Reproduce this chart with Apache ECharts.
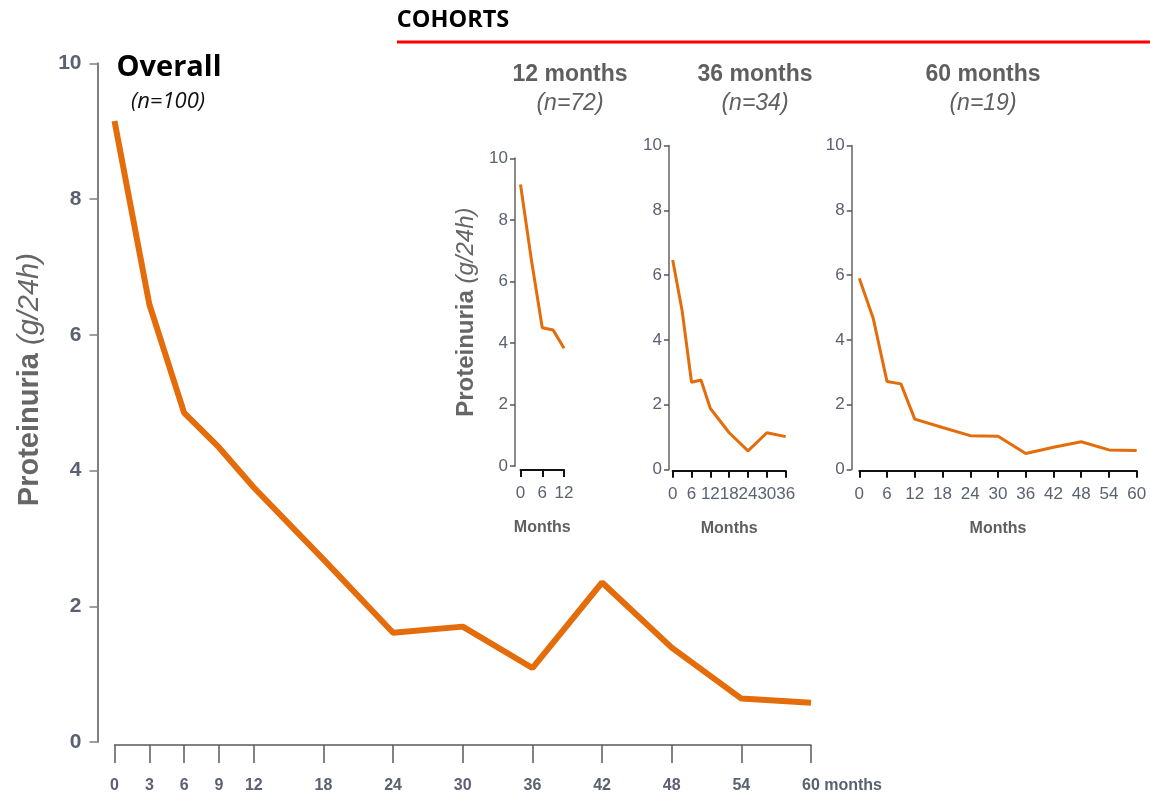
<!DOCTYPE html>
<html><head><meta charset="utf-8">
<script src="https://cdn.jsdelivr.net/npm/echarts@6/dist/echarts.min.js"></script>
<style>html,body{margin:0;padding:0;background:#fff}#c{width:1150px;height:794px}</style>
</head><body><div id="c"></div>
<script>
// ---- data ----
const overallMonths = [0, 3, 6, 9, 12, 18, 24, 30, 36, 42, 48, 54, 60];
const overallValues = [9.15, 6.45, 4.85, 4.34, 3.75, 2.69, 1.61, 1.70, 1.09, 2.35, 1.39, 0.64, 0.58];
const c12Months = [0, 3, 6, 9, 12];
const c12Values = [9.15, 6.7, 4.49, 4.42, 3.83];
const c36Months = [0, 3, 6, 9, 12, 18, 24, 30, 36];
const c36Values = [6.47, 4.9, 2.69, 2.76, 1.88, 1.13, 0.57, 1.13, 1.01];
const c60Months = [0, 3, 6, 9, 12, 18, 24, 30, 36, 42, 48, 54, 60];
const c60Values = [5.9, 4.67, 2.71, 2.64, 1.55, 1.29, 1.04, 1.02, 0.49, 0.68, 0.85, 0.60, 0.58];
const overallTicks = [0, 3, 6, 9, 12, 18, 24, 30, 36, 42, 48, 54, 60];
const cohortTitles = ['12 months', '36 months', '60 months'];
const cohortN = ['(n=72)', '(n=34)', '(n=19)'];

const zip = (a, b) => a.map((x, i) => [x, b[i]]);
const ORANGE = '#E46C0A';
const AF = 'Liberation Sans, Arial, sans-serif';
const GRAYTXT = '#5f5f5f';
const TICKTXT = '#5a6272';

const chart = echarts.init(document.getElementById('c'));

function insetX(idx, max, offset) {
  return {
    gridIndex: idx, type: 'value', min: 0, max: max, interval: 6, offset: offset,
    name: 'Months', nameLocation: 'middle', nameGap: 50,
    nameTextStyle: {fontFamily: AF, fontWeight: 'bold', fontSize: 16, color: GRAYTXT},
    axisLine: {show: true, onZero: false, lineStyle: {color: '#111', width: 2}},
    axisTick: {show: true, length: 7, lineStyle: {color: '#111', width: 2}},
    axisLabel: {fontFamily: AF, fontSize: 17, color: TICKTXT, margin: 15, hideOverlap: false},
    splitLine: {show: false}
  };
}
function insetY(idx, offset, named) {
  const y = {
    gridIndex: idx, type: 'value', min: 0, max: 10, interval: 2, offset: offset,
    axisLine: {show: true, onZero: false, lineStyle: {color: '#8a8a8a', width: 2}},
    axisTick: {show: true, length: 5, lineStyle: {color: '#555', width: 1.5}},
    axisLabel: {fontFamily: AF, fontSize: 17, color: TICKTXT, margin: 7},
    splitLine: {show: false}
  };
  if (named) {
    y.name = '{b|Proteinuria} {i|(g/24h)}';
    y.nameLocation = 'middle';
    y.nameGap = 37;
    y.nameTextStyle = {fontFamily: AF, fontSize: 24, color: '#666',
      rich: {b: {fontFamily: AF, fontWeight: 'bold', fontSize: 24, color: '#666'},
             i: {fontFamily: AF, fontStyle: 'italic', fontSize: 24, color: '#666'}}};
  }
  return y;
}

const option = {
  animation: false,
  backgroundColor: '#fff',
  grid: [
    {left: 114.5, top: 63.3, width: 696.5, height: 679.4},
    {left: 520.5, top: 158.3, width: 43.5, height: 307.7},
    {left: 672.7, top: 145.7, width: 113, height: 323.6},
    {left: 859.3, top: 145.7, width: 277.4, height: 323.6}
  ],
  xAxis: [
    {
      gridIndex: 0, type: 'value', min: 0, max: 60, offset: 3,
      axisLine: {show: true, onZero: false, lineStyle: {color: '#5a5a5a', width: 1.5}},
      axisTick: {show: true, customValues: overallTicks, length: 18, lineStyle: {color: '#5a5a5a', width: 1.5}},
      axisLabel: {
        customValues: overallTicks, margin: 33, fontFamily: AF, fontSize: 16, fontWeight: 'bold', color: TICKTXT,
        formatter: v => v === 60 ? '{p|}60{m| months}' : String(v),
        rich: {p: {width: 62}, m: {width: 62, fontFamily: AF, fontSize: 16, fontWeight: 'bold', color: TICKTXT}}
      },
      splitLine: {show: false}
    },
    insetX(1, 12, 4),
    insetX(2, 36, 1.5),
    insetX(3, 60, 1.5)
  ],
  yAxis: [
    {
      gridIndex: 0, type: 'value', min: 0, max: 10, interval: 2, offset: 17,
      name: '{b|Proteinuria} {i|(g/24h)}', nameLocation: 'middle', nameGap: 53,
      nameTextStyle: {fontFamily: AF, fontSize: 29, color: '#666', padding: [0, 0, 0, 46],
        rich: {b: {fontFamily: AF, fontWeight: 'bold', fontSize: 29, color: '#666'},
               i: {fontFamily: AF, fontStyle: 'italic', fontSize: 29, color: '#666'}}},
      axisLine: {show: true, onZero: false, lineStyle: {color: '#808080', width: 2}},
      axisTick: {show: true, length: 8, lineStyle: {color: '#808080', width: 1.5}},
      axisLabel: {fontFamily: AF, fontSize: 21, fontWeight: 'bold', color: TICKTXT, margin: 16},
      splitLine: {show: false}
    },
    insetY(1, 5.5, true),
    insetY(2, 3.7, false),
    insetY(3, 7.6, false)
  ],
  series: [
    {type: 'line', xAxisIndex: 0, yAxisIndex: 0, data: zip(overallMonths, overallValues),
     symbol: 'none', lineStyle: {color: ORANGE, width: 6}},
    {type: 'line', xAxisIndex: 1, yAxisIndex: 1, data: zip(c12Months, c12Values),
     symbol: 'none', lineStyle: {color: ORANGE, width: 3}},
    {type: 'line', xAxisIndex: 2, yAxisIndex: 2, data: zip(c36Months, c36Values),
     symbol: 'none', lineStyle: {color: ORANGE, width: 3}},
    {type: 'line', xAxisIndex: 3, yAxisIndex: 3, data: zip(c60Months, c60Values),
     symbol: 'none', lineStyle: {color: ORANGE, width: 3}}
  ],
  graphic: [
    {type: 'text', x: 169, y: 68, style: {text: 'Overall', fill: '#000', font: 'bold 29px "Open Sans", sans-serif', textAlign: 'center', textVerticalAlign: 'middle'}},
    {type: 'text', x: 168, y: 102, style: {text: '(n=100)', fill: '#111', font: 'italic 22px "Open Sans", sans-serif', textAlign: 'center', textVerticalAlign: 'middle'}},
    {type: 'text', x: 453, y: 20, style: {text: 'COHORTS', fill: '#000', font: 'bold 23.5px "Open Sans", sans-serif', textAlign: 'center', textVerticalAlign: 'middle'}},
    {type: 'line', shape: {x1: 397, y1: 42, x2: 1150, y2: 42}, style: {stroke: '#ff0000', lineWidth: 3}},
    {type: 'text', x: 570, y: 75, style: {text: cohortTitles[0], fill: GRAYTXT, font: 'bold 23px ' + AF, textAlign: 'center', textVerticalAlign: 'middle'}},
    {type: 'text', x: 570, y: 104, style: {text: cohortN[0], fill: GRAYTXT, font: 'italic 23px ' + AF, textAlign: 'center', textVerticalAlign: 'middle'}},
    {type: 'text', x: 755, y: 75, style: {text: cohortTitles[1], fill: GRAYTXT, font: 'bold 23px ' + AF, textAlign: 'center', textVerticalAlign: 'middle'}},
    {type: 'text', x: 755, y: 104, style: {text: cohortN[1], fill: GRAYTXT, font: 'italic 23px ' + AF, textAlign: 'center', textVerticalAlign: 'middle'}},
    {type: 'text', x: 983, y: 75, style: {text: cohortTitles[2], fill: GRAYTXT, font: 'bold 23px ' + AF, textAlign: 'center', textVerticalAlign: 'middle'}},
    {type: 'text', x: 983, y: 104, style: {text: cohortN[2], fill: GRAYTXT, font: 'italic 23px ' + AF, textAlign: 'center', textVerticalAlign: 'middle'}}
  ]
};
chart.setOption(option);
</script>
</body></html>
